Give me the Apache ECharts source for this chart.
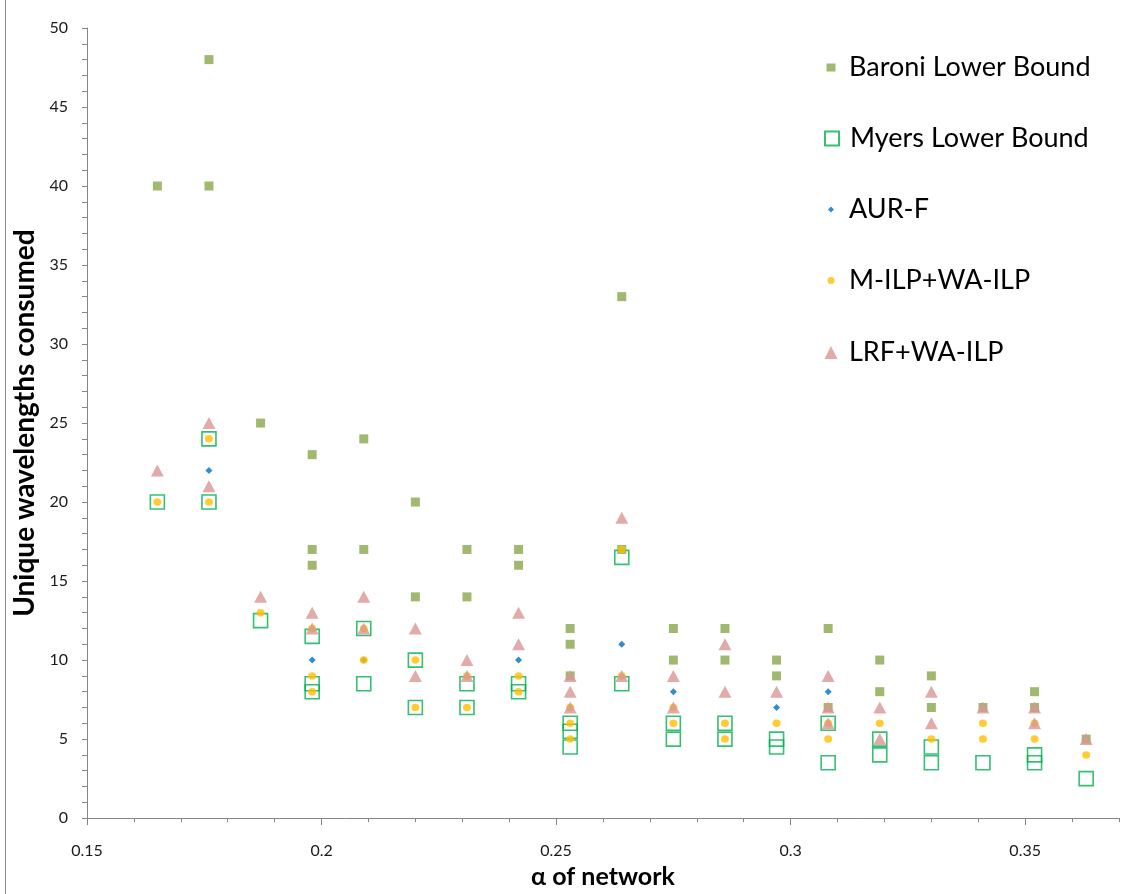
<!DOCTYPE html>
<html>
<head>
<meta charset="utf-8">
<title>Unique wavelengths consumed</title>
<script src="https://cdn.jsdelivr.net/npm/echarts@6/dist/echarts.min.js"></script>
<style>
  html, body { margin: 0; padding: 0; background: #fff; }
  #chart { width: 1148px; height: 894px; }
</style>
</head>
<body>
<div id="chart"></div>
<script>
// alpha of each network (one column of markers per value)
const alphas = [0.165, 0.176, 0.187, 0.198, 0.209, 0.220, 0.231, 0.242, 0.253, 0.264,
  0.275, 0.286, 0.297, 0.308, 0.319, 0.330, 0.341, 0.352, 0.363];

// values per alpha column (several results can share one alpha)
const baroniLB = [[40], [48, 40], [25], [23, 17, 16], [24, 17], [20, 14], [17, 14], [17, 16],
  [12, 11, 9], [33, 17], [12, 10], [12, 10], [10, 9], [12, 7], [10, 8], [9, 7], [7], [8, 7], [5]];
const myersLB = [[20], [24, 20], [12.5], [11.5, 8.5, 8], [12, 8.5], [10, 7], [8.5, 7], [8.5, 8],
  [6, 5.5, 4.5], [16.5, 8.5], [6, 5], [6, 5], [5, 4.5], [6, 3.5], [5, 4], [4.5, 3.5], [3.5], [4, 3.5], [2.5]];
const aurF = [[], [22], [], [10], [10], [], [], [10], [], [11], [8], [], [7], [8], [], [], [], [], []];
const milpWa = [[20], [24, 20], [13], [12, 9, 8], [12, 10], [10, 7], [9, 7], [9, 8], [7, 6, 5],
  [17, 9], [7, 6], [6, 5], [6], [6, 5], [6], [5], [6, 5], [6, 5], [4]];
const lrfWa = [[22], [25, 21], [14], [13, 12], [14, 12], [12, 9], [10, 9], [13, 11], [9, 8, 7],
  [19, 9], [9, 7], [11, 8], [8], [9, 7, 6], [7, 5], [8, 6], [7], [7, 6], [5]];

const xTicks = [0.15, 0.2, 0.25, 0.3, 0.35];

const toPoints = (cols) => cols.flatMap((vals, i) => vals.map((v) => [alphas[i], v]));

const axisGrey = "#868686";
const font = "Lato";

const seriesDefs = [
  { name: "Baroni Lower Bound", data: baroniLB, symbol: "rect", size: [9, 9],
    itemStyle: { color: "#8aa64c" }, legendSize: [9, 8], legendTop: 70 },
  { name: "Myers Lower Bound", data: myersLB, symbol: "rect", size: [14, 14],
    itemStyle: { color: "rgba(0,0,0,0)", borderColor: "#00b050", borderWidth: 1.6 }, legendSize: [14, 14], legendTop: 141 },
  { name: "AUR-F", data: aurF, symbol: "diamond", size: [7, 7],
    itemStyle: { color: "#0070c0" }, legendSize: [6, 6], legendTop: 212 },
  { name: "M-ILP+WA-ILP", data: milpWa, symbol: "circle", size: [8, 7.5],
    itemStyle: { color: "#ffc000" }, legendSize: [7, 7], legendTop: 283 },
  { name: "LRF+WA-ILP", data: lrfWa, symbol: "triangle", size: [13, 12],
    itemStyle: { color: "#d99694" }, legendSize: [13, 13], legendTop: 355 },
];

const chart = echarts.init(document.getElementById("chart"));

chart.setOption({
  animation: false,
  textStyle: { fontFamily: font },
  grid: { left: 87, right: 29, top: 28, bottom: 74 },
  legend: seriesDefs.map((s) => ({
    data: [s.name],
    orient: "vertical",
    left: 831 - s.legendSize[0] / 2,
    top: s.legendTop - 16,
    padding: 0,
    itemWidth: s.legendSize[0],
    itemHeight: s.legendSize[1],
    selectedMode: false,
    textStyle: {
      fontFamily: font,
      fontSize: 27,
      color: "#000",
      padding: [0, 0, 0, 849 - (831 + s.legendSize[0] / 2 + 5)],
    },
  })),
  xAxis: [
    {
      type: "value",
      min: 0.15,
      max: 0.37,
      interval: 0.01,
      axisLine: { lineStyle: { color: axisGrey, width: 1 } },
      axisTick: { length: 4, lineStyle: { color: axisGrey } },
      axisLabel: { show: false },
      splitLine: { show: false },
    },
    {
      type: "value",
      position: "bottom",
      min: 0.15,
      max: 0.37,
      axisLine: { show: false },
      axisTick: { show: true, length: 7, customValues: xTicks, lineStyle: { color: axisGrey } },
      axisLabel: { customValues: xTicks, margin: 25, fontSize: 16, color: "#1a1a1a", fontFamily: font },
      splitLine: { show: false },
      name: "α of network",
      nameLocation: "middle",
      nameGap: 45,
      nameTextStyle: { fontSize: 25, fontWeight: "bold", color: "#000", fontFamily: font },
    },
  ],
  yAxis: {
    type: "value",
    min: 0,
    max: 50,
    interval: 5,
    axisLine: { show: true, lineStyle: { color: axisGrey, width: 1 } },
    axisTick: { show: true, length: 5, lineStyle: { color: axisGrey } },
    minorTick: { show: true, splitNumber: 5, length: 5, lineStyle: { color: axisGrey } },
    axisLabel: { margin: 19, fontSize: 16, color: "#1a1a1a", fontFamily: font },
    splitLine: { show: false },
    name: "Unique wavelengths consumed",
    nameLocation: "middle",
    nameGap: 43,
    nameTextStyle: { fontSize: 28, fontWeight: "bold", color: "#000", fontFamily: font },
  },
  graphic: [
    {
      type: "line",
      shape: { x1: 5.5, y1: 0, x2: 5.5, y2: 894 },
      style: { stroke: "#8c8c8c", lineWidth: 1 },
      silent: true,
    },
  ],
  series: seriesDefs.map((s) => ({
    name: s.name,
    type: "scatter",
    xAxisIndex: 0,
    symbol: s.symbol,
    symbolSize: s.size,
    itemStyle: s.itemStyle,
    emphasis: { disabled: true },
    data: toPoints(s.data),
  })),
});

window.addEventListener("resize", () => chart.resize());
</script>
</body>
</html>
